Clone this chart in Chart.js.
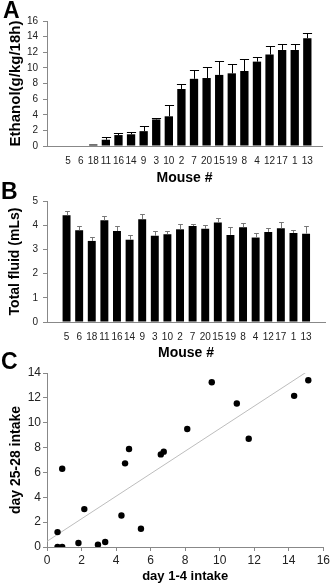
<!DOCTYPE html>
<html>
<head>
<meta charset="utf-8">
<script src="https://cdn.jsdelivr.net/npm/chart.js@4.4.1/dist/chart.umd.min.js"></script>
<style>
  body { margin: 0; background: #fff; width: 332px; height: 586px; position: relative; overflow: hidden;
         font-family: 'Liberation Sans', Arial, sans-serif; }
  canvas { position: absolute; left: 0; }
  .panel { position: absolute; font-weight: bold; font-size: 23px; line-height: 23px; color: #000; }
</style>
</head>
<body>
<canvas id="chartA" width="332" height="190" style="top:0"></canvas>
<canvas id="chartB" width="332" height="172" style="top:190px"></canvas>
<canvas id="chartC" width="332" height="224" style="top:362px"></canvas>
<div class="panel" style="left:3px;top:-1px">A</div>
<div class="panel" style="left:1px;top:180px">B</div>
<div class="panel" style="left:1px;top:350px">C</div>
<script>
// mouse order used on both bar panels
const mouseIds = ['5', '6', '18', '11', '16', '14', '9', '3', '10', '2',
                  '7', '20', '15', '19', '8', '4', '12', '17', '1', '13'];

// panel A: ethanol intake (g/kg/18h), mean and upper error
const ethanolMeans = [0, 0, 0.2, 0.8, 1.4, 1.5, 1.9, 3.4, 3.8, 7.3,
                      8.6, 8.7, 9.1, 9.3, 9.6, 10.8, 11.7, 12.3, 12.3, 13.8];
const ethanolErrs = [0, 0, 0, 0.3, 0.3, 0.3, 0.7, 0.2, 1.5, 0.7,
                     1.1, 1.4, 1.8, 1.2, 1.5, 0.6, 1.1, 0.8, 0.7, 0.7];

// panel B: total fluid (mLs)
const fluidMeans = [4.41, 3.79, 3.35, 4.2, 3.76, 3.4, 4.25, 3.56, 3.63, 3.83,
                    3.97, 3.85, 4.11, 3.6, 3.92, 3.49, 3.72, 3.87, 3.68, 3.65];
const fluidErrs = [0.18, 0.16, 0.15, 0.17, 0.21, 0.19, 0.23, 0.19, 0.13, 0.21,
                   0.1, 0.15, 0.2, 0.33, 0.19, 0.18, 0.16, 0.25, 0.13, 0.3];

// panel C: early vs late intake per mouse
const day1to4 = [0.61, 0.61, 0.88, 0.88, 1.82, 2.16, 2.95, 3.37, 4.31, 4.52,
                 4.75, 5.44, 6.59, 6.76, 8.12, 9.54, 10.99, 11.68, 14.31, 15.13];
const day25to28 = [1.2, 0, 0, 6.3, 0.32, 3.05, 0.18, 0.4, 2.54, 6.73,
                   7.88, 1.47, 7.45, 7.67, 9.49, 13.26, 11.55, 8.71, 12.16, 13.42];

const FONT = "'Liberation Sans', Arial, sans-serif";
Chart.defaults.font.family = FONT;
Chart.defaults.color = '#222';
const AXIS = '#888';

// draws the upper error bar on top of every bar
const errorBars = {
    id: 'errorBars',
    afterDatasetsDraw(chart, args, opts) {
        const ctx = chart.ctx;
        const yScale = chart.scales.y;
        chart.data.datasets.forEach((ds, i) => {
            if (!ds.errors) return;
            const meta = chart.getDatasetMeta(i);
            meta.data.forEach((bar, j) => {
                const err = ds.errors[j];
                if (!err) return;
                const top = Math.round(yScale.getPixelForValue(ds.data[j].y + err)) + 0.5;
                const x = Math.round(bar.x) + 0.5;
                const half = bar.width * opts.capRatio / 2;
                ctx.save();
                ctx.strokeStyle = opts.color;
                ctx.lineWidth = 1;
                ctx.beginPath();
                ctx.moveTo(x, bar.y);
                ctx.lineTo(x, top);
                ctx.moveTo(x - half, top);
                ctx.lineTo(x + half, top);
                ctx.stroke();
                ctx.restore();
            });
        });
    }
};

function barPanel(id, means, errs, opts) {
    const points = means.map((v, i) => ({ x: i, y: v }));
    return new Chart(document.getElementById(id), {
        type: 'bar',
        data: {
            datasets: [{
                data: points,
                errors: errs,
                backgroundColor: '#000',
                borderWidth: 0,
                barPercentage: opts.barPct,
                categoryPercentage: 1
            }]
        },
        options: {
            responsive: false,
            animation: false,
            layout: { padding: opts.padding },
            plugins: {
                legend: { display: false },
                tooltip: { enabled: false },
                errorBars: { color: opts.errColor, capRatio: opts.capRatio }
            },
            scales: {
                x: {
                    type: 'linear',
                    min: opts.xMin,
                    max: opts.xMax,
                    afterBuildTicks: scale => {
                        scale.ticks = mouseIds.map((m, i) => ({ value: i }));
                    },
                    afterFit: scale => { scale.height = opts.xHeight; },
                    grid: { display: false, drawTicks: false },
                    border: { color: AXIS },
                    ticks: {
                        autoSkip: false,
                        maxRotation: 0,
                        padding: opts.xTickPad,
                        font: { size: 10 },
                        callback: value => mouseIds[value]
                    },
                    title: {
                        display: true,
                        text: 'Mouse #',
                        font: { size: 14, weight: 'bold' },
                        color: '#000',
                        padding: { top: 0, bottom: opts.xTitlePad }
                    }
                },
                y: {
                    min: 0,
                    max: opts.yMax,
                    afterFit: scale => { scale.width = 47; },
                    grid: { drawOnChartArea: false, tickLength: 4, color: AXIS },
                    border: { color: AXIS },
                    ticks: { stepSize: opts.yStep, padding: 5, font: { size: 10 } },
                    title: {
                        display: true,
                        text: opts.yTitle,
                        font: { size: opts.yTitleSize, weight: 'bold' },
                        color: '#000',
                        padding: { top: 7, bottom: 0 }
                    }
                }
            }
        },
        plugins: [errorBars]
    });
}

barPanel('chartA', ethanolMeans, ethanolErrs, {
    padding: { top: 21, right: 10, left: 0, bottom: 0 },
    xMin: -1.13, xMax: 19.62, xHeight: 44, xTickPad: 9, xTitlePad: 3,
    yMax: 16, yStep: 2, yTitle: 'Ethanol(g/kg/18h)', yTitleSize: 15,
    barPct: 0.66, errColor: '#000', capRatio: 1.1
});

barPanel('chartB', fluidMeans, fluidErrs, {
    padding: { top: 8, right: 7, left: 0, bottom: 0 },
    xMin: -1.0, xMax: 19.95, xHeight: 40, xTickPad: 9, xTitlePad: 0,
    yMax: 5, yStep: 1, yTitle: 'Total fluid (mLs)', yTitleSize: 14,
    barPct: 0.63, errColor: '#777', capRatio: 0.6
});

// least-squares fit for the trend line in panel C
function fitLine(xs, ys) {
    const n = xs.length;
    const mx = xs.reduce((a, b) => a + b, 0) / n;
    const my = ys.reduce((a, b) => a + b, 0) / n;
    let sxy = 0, sxx = 0;
    for (let i = 0; i < n; i++) {
        sxy += (xs[i] - mx) * (ys[i] - my);
        sxx += (xs[i] - mx) * (xs[i] - mx);
    }
    const slope = sxy / sxx;
    return { slope, intercept: my - slope * mx };
}

const fit = fitLine(day1to4, day25to28);
const fitEnds = [0, Math.max(...day1to4)];

new Chart(document.getElementById('chartC'), {
    type: 'scatter',
    data: {
        datasets: [{
            data: day1to4.map((x, i) => ({ x, y: day25to28[i] })),
            backgroundColor: '#000',
            borderWidth: 0,
            pointRadius: 3.2
        }, {
            data: fitEnds.map(x => ({ x, y: fit.intercept + fit.slope * x })),
            showLine: true,
            borderColor: '#bdbdbd',
            borderWidth: 1,
            pointRadius: 0
        }]
    },
    options: {
        responsive: false,
        animation: false,
        layout: { padding: { top: 11, right: 7, left: 0, bottom: 0 } },
        plugins: { legend: { display: false }, tooltip: { enabled: false } },
        scales: {
            x: {
                min: 0,
                max: 16,
                afterFit: scale => { scale.height = 39; },
                grid: { drawOnChartArea: false, tickLength: 4, color: AXIS },
                border: { color: AXIS },
                ticks: { stepSize: 2, padding: 2, font: { size: 12 } },
                title: {
                    display: true,
                    text: 'day 1-4 intake',
                    font: { size: 13, weight: 'bold' },
                    color: '#000',
                    padding: { top: 0, bottom: 2 }
                }
            },
            y: {
                min: 0,
                max: 14,
                afterFit: scale => { scale.width = 47; },
                grid: { drawOnChartArea: false, tickLength: 4, color: AXIS },
                border: { color: AXIS },
                ticks: { stepSize: 2, padding: 2, font: { size: 12 } },
                title: {
                    display: true,
                    text: 'day 25-28 intake',
                    font: { size: 14, weight: 'bold' },
                    color: '#000',
                    padding: { top: 8, bottom: 0 }
                }
            }
        }
    }
});
</script>
</body>
</html>
